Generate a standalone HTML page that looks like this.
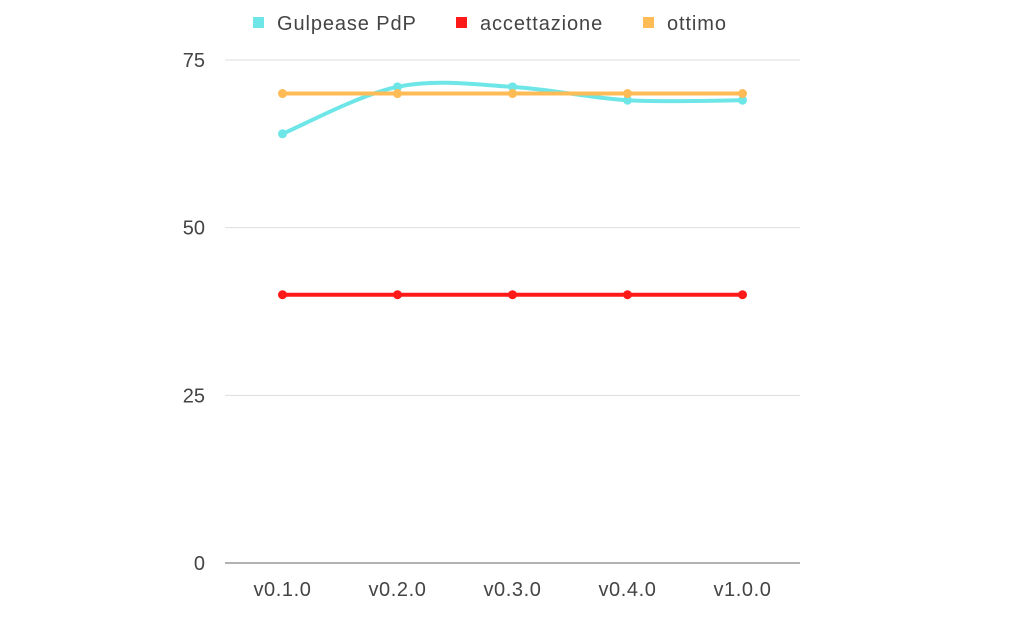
<!DOCTYPE html>
<html><head><meta charset="utf-8"><style>
html,body{margin:0;padding:0;background:#fff;}
svg text{font-family:"Liberation Sans",sans-serif;font-weight:300;fill:#444;}
</style></head><body>
<svg id="chart" width="1023" height="617" viewBox="0 0 1023 617">
<g id="grid"></g>
<g id="yticks"></g>
<g id="xticks"></g>
<g id="series"></g>
<g id="legend"></g>
</svg>
<script>
const categories = ["v0.1.0","v0.2.0","v0.3.0","v0.4.0","v1.0.0"];
const gulpease = [64,71,71,69,69];
const accettazione = [40,40,40,40,40];
const ottimo = [70,70,70,70,70];
const yTicks = [0,25,50,75];
const seriesNames = ["Gulpease PdP","accettazione","ottimo"];
const NS="http://www.w3.org/2000/svg";
const x0=225,x1=800,yB=563,yT=60,yMax=75;
const bw=(x1-x0)/categories.length;
function xs(i){return x0+bw*(i+0.5);}
function ys(v){return yB-(v/yMax)*(yB-yT);}
function mk(tag,attrs,parent){const e=document.createElementNS(NS,tag);for(const k in attrs)e.setAttribute(k,attrs[k]);parent.appendChild(e);return e;}
const grid=document.getElementById('grid'),yg=document.getElementById('yticks'),xg=document.getElementById('xticks'),sg=document.getElementById('series'),lg=document.getElementById('legend');
yTicks.forEach(t=>{
  const l=mk('line',{x1:x0,x2:x1,y1:ys(t),y2:ys(t),stroke:t===0?'#999':'#ddd','stroke-width':t===0?1.5:1},grid);
  
  
  const tx=mk('text',{x:205,y:ys(t)+7,'text-anchor':'end','font-size':20},yg);
  tx.textContent=t;
  
  
});
categories.forEach((c,i)=>{
  const tx=mk('text',{x:xs(i),y:596,'text-anchor':'middle','font-size':20,'letter-spacing':0.6},xg);
  tx.textContent=c;
  
  
});
function smoothPath(pts){
  let d='M'+pts[0][0]+','+pts[0][1];
  for(let i=0;i<pts.length-1;i++){
    const p0=pts[Math.max(i-1,0)],p1=pts[i],p2=pts[i+1],p3=pts[Math.min(i+2,pts.length-1)];
    const t=0.5/3*2;
    const c1=[p1[0]+(p2[0]-p0[0])*t/2,p1[1]+(p2[1]-p0[1])*t/2];
    const c2=[p2[0]-(p3[0]-p1[0])*t/2,p2[1]-(p3[1]-p1[1])*t/2];
    d+=' C'+c1[0]+','+c1[1]+' '+c2[0]+','+c2[1]+' '+p2[0]+','+p2[1];
  }
  return d;
}
const allSeries=[[gulpease,'#6ee6e8',true,'gulpease-line'],[ottimo,'#ffbb55',false,'ottimo-line'],[accettazione,'#ff1a1a',false,'accettazione-line']];
allSeries.forEach(([vals,col,smooth,name])=>{
  const pts=vals.map((v,i)=>[xs(i),ys(v)]);
  const d=smooth?smoothPath(pts):'M'+pts.map(p=>p.join(',')).join(' L');
  const p=mk('path',{d:d,fill:'none',stroke:col,'stroke-width':4},sg);
  
  
  pts.forEach(pt=>{
    const c=mk('circle',{cx:pt[0],cy:pt[1],r:4.5,fill:col},sg);
    
    
  });
});
const legCols=['#6ee6e8','#ff1a1a','#ffbb55'],legX=[253,456,643];
seriesNames.forEach((n,i)=>{
  const r=mk('rect',{x:legX[i],y:17,width:11,height:11,fill:legCols[i]},lg);
  
  
  const t=mk('text',{x:legX[i]+24,y:30,'font-size':20,'letter-spacing':0.9},lg);
  t.textContent=n;
  
  
});
</script>
</body></html>
